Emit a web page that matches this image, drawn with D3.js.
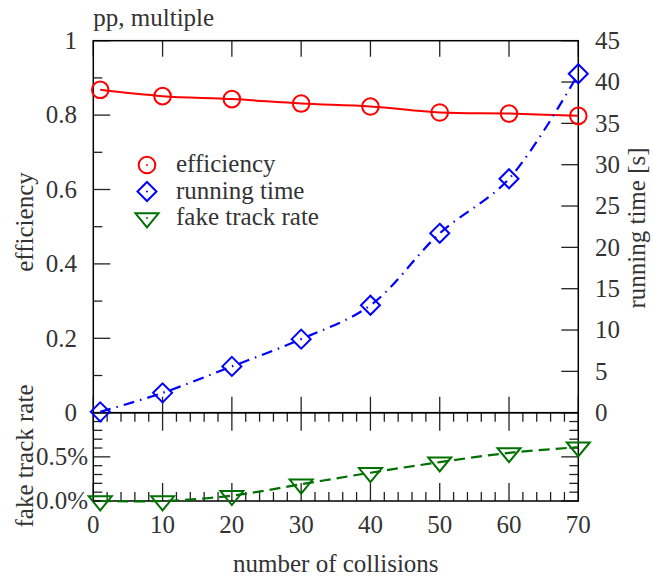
<!DOCTYPE html>
<html>
<head>
<meta charset="utf-8">
<script src="https://cdn.jsdelivr.net/npm/d3@7"></script>
<style>
  body { margin: 0; background: #fff; }
</style>
</head>
<body>
<div id="chart"></div>
<script>
// values
const collisions = [1, 10, 20, 30, 40, 50, 60, 70];
const efficiency = [0.868, 0.851, 0.843, 0.831, 0.823, 0.807, 0.804, 0.798];
const runningTime = [0.1, 2.4, 5.6, 8.9, 13.0, 21.7, 28.3, 41.0];
const fakeRate = [0.0, 0.0, 0.0006, 0.0019, 0.0032, 0.0044, 0.00545, 0.0061];

const xTicks = [0, 10, 20, 30, 40, 50, 60, 70];
const effTicks = [0, 0.2, 0.4, 0.6, 0.8, 1];
const timeTicks = [0, 5, 10, 15, 20, 25, 30, 35, 40, 45];
const fakeTicks = [0, 0.005];
const legendNames = ["efficiency", "running time", "fake track rate"];

const W = 653, H = 578;
const left = 93.3, right = 578.3;
const top1 = 40.7, bot1 = 412.7, bot2 = 501;
const fs = 25;
const serif = "'Liberation Serif', 'DejaVu Serif', serif";

const red = "#ff0000", blue = "#0000ff", green = "#007000";

var svg = d3.select("#chart").append("svg")
  .attr("width", W).attr("height", H);

var x = d3.scaleLinear().domain([0, 70]).range([left, right]);
var yEff = d3.scaleLinear().domain([0, 1]).range([bot1, top1]);
var yTime = d3.scaleLinear().domain([0, 45]).range([bot1, top1]);
var yFake = d3.scaleLinear().domain([0, 0.01]).range([bot2, bot1]);

var ticks = svg.append("g").attr("stroke", "#222").attr("stroke-width", 1.3);

function vTicks(vals, y0, len) {
  ticks.selectAll(null).data(vals).enter().append("line")
    .attr("x1", d => x(d)).attr("x2", d => x(d))
    .attr("y1", y0).attr("y2", y0 + len);
}
function hTicks(vals, scale, x0, len) {
  ticks.selectAll(null).data(vals).enter().append("line")
    .attr("x1", x0).attr("x2", x0 + len)
    .attr("y1", d => scale(d)).attr("y2", d => scale(d));
}

// top panel
vTicks(xTicks, top1, 16);
vTicks(xTicks, bot1, -16);
hTicks(effTicks, yEff, left, 17);
hTicks(d3.range(0.1, 1, 0.2), yEff, left, 9);
hTicks(timeTicks, yTime, right, -17);

// bottom panel
var minorX = d3.range(0, 71, 2).filter(d => d % 10 != 0);
vTicks(xTicks, bot1, 18);
vTicks(minorX, bot1, 9);
vTicks(xTicks, bot2, -18);
vTicks(minorX, bot2, -9);
var minorF = d3.range(1, 10).map(d => d / 1000).filter(d => d != 0.005);
hTicks(fakeTicks, yFake, left, 17);
hTicks(minorF, yFake, left, 9);
hTicks(fakeTicks, yFake, right, -17);
hTicks(minorF, yFake, right, -9);

// frames
svg.append("rect").attr("x", left).attr("y", top1)
  .attr("width", right - left).attr("height", bot1 - top1)
  .attr("fill", "none").attr("stroke", "#000").attr("stroke-width", 1.5);
svg.append("rect").attr("x", left).attr("y", bot1)
  .attr("width", right - left).attr("height", bot2 - bot1)
  .attr("fill", "none").attr("stroke", "#000").attr("stroke-width", 1.5);

// tick labels
var lab = svg.append("g").attr("font-size", fs)
  .attr("font-family", serif).attr("fill", "#333");
lab.selectAll(null).data(effTicks).enter().append("text")
  .attr("x", 77).attr("y", d => yEff(d)).attr("dy", "0.33em")
  .attr("text-anchor", "end").text(d => d3.format("")(d));
lab.selectAll(null).data(timeTicks).enter().append("text")
  .attr("x", 595).attr("y", d => yTime(d)).attr("dy", "0.33em")
  .text(d => d);
lab.selectAll(null).data(fakeTicks).enter().append("text")
  .attr("x", 88).attr("y", d => yFake(d)).attr("dy", "0.33em")
  .attr("text-anchor", "end").text(d => d3.format(".1%")(d));
lab.selectAll(null).data(xTicks).enter().append("text")
  .attr("x", d => x(d)).attr("y", 533)
  .attr("text-anchor", "middle").text(d => d);

// titles
lab.append("text").attr("x", left).attr("y", 26).text("pp, multiple");
lab.append("text").attr("x", (left + right) / 2).attr("y", 572)
  .attr("text-anchor", "middle").text("number of collisions");
lab.append("text").attr("transform", "translate(33,222) rotate(-90)")
  .attr("text-anchor", "middle").text("efficiency");
lab.append("text").attr("transform", "translate(33,456) rotate(-90)")
  .attr("text-anchor", "middle").text("fake track rate");
lab.append("text").attr("transform", "translate(645,228) rotate(-90)")
  .attr("text-anchor", "middle").text("running time [s]");

// markers
function circleM(g, cx, cy) {
  g.append("circle").attr("cx", cx).attr("cy", cy).attr("r", 8.3)
    .attr("fill", "none").attr("stroke", red).attr("stroke-width", 2);
}
function diamondM(g, cx, cy) {
  var r = 9.5;
  g.append("path").attr("d", `M${cx},${cy - r}L${cx + r},${cy}L${cx},${cy + r}L${cx - r},${cy}Z`)
    .attr("fill", "none").attr("stroke", blue).attr("stroke-width", 2);
}
function triM(g, cx, cy) {
  var w = 11.5, h = 14;
  g.append("path").attr("d", `M${cx - w},${cy - h / 3}L${cx + w},${cy - h / 3}L${cx},${cy + 2 * h / 3}Z`)
    .attr("fill", "none").attr("stroke", green).attr("stroke-width", 2);
}

var pts = collisions.map((c, i) => ({c: c, e: efficiency[i], t: runningTime[i], f: fakeRate[i]}));

var plot = svg.append("g");
plot.append("path").datum(pts)
  .attr("d", d3.line().x(d => x(d.c)).y(d => yEff(d.e)).curve(d3.curveCatmullRom))
  .attr("fill", "none").attr("stroke", red).attr("stroke-width", 2);
plot.append("path").datum(pts)
  .attr("d", d3.line().x(d => x(d.c)).y(d => yTime(d.t)).curve(d3.curveCatmullRom))
  .attr("fill", "none").attr("stroke", blue).attr("stroke-width", 2.2)
  .attr("stroke-dasharray", "11,6,1.5,6");
plot.append("path").datum(pts)
  .attr("d", d3.line().x(d => x(d.c)).y(d => yFake(d.f)).curve(d3.curveCatmullRom))
  .attr("fill", "none").attr("stroke", green).attr("stroke-width", 2.2)
  .attr("stroke-dasharray", "11,6");

pts.forEach(d => {
  circleM(plot, x(d.c), yEff(d.e));
  diamondM(plot, x(d.c), yTime(d.t));
  triM(plot, x(d.c), yFake(d.f));
});

// legend
var leg = svg.append("g");
var legY = [165, 191.5, 218];
var legColors = [red, blue, green];
[circleM, diamondM, triM].forEach((fn, i) => {
  fn(leg, 147, legY[i]);
  leg.append("circle").attr("cx", 147).attr("cy", legY[i]).attr("r", 1)
    .attr("fill", legColors[i]);
  leg.append("text").attr("x", 176).attr("y", legY[i] + 7)
    .attr("font-size", fs).attr("font-family", serif).attr("fill", "#333")
    .text(legendNames[i]);
});
</script>
</body>
</html>
